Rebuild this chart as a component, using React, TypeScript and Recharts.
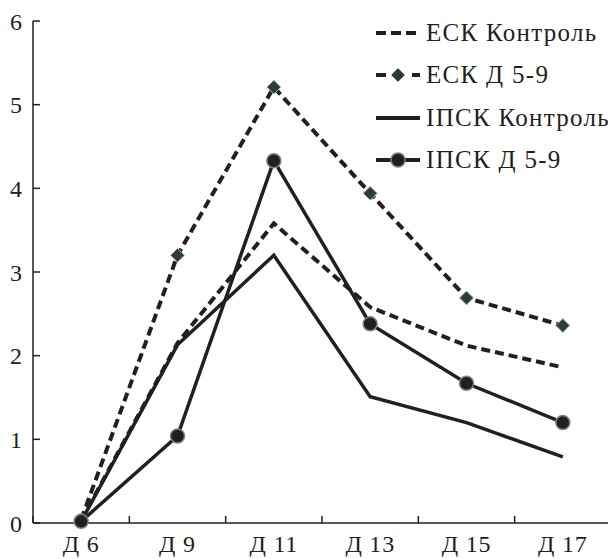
import React from 'react';
import { LineChart, Line, XAxis, YAxis, Legend } from 'recharts';

const categories = ['Д 6', 'Д 9', 'Д 11', 'Д 13', 'Д 15', 'Д 17'];
const eskControl = [0.03, 2.15, 3.58, 2.58, 2.12, 1.86];
const eskD59 = [0.04, 3.2, 5.21, 3.94, 2.69, 2.36];
const ipskControl = [0.02, 2.13, 3.2, 1.51, 1.2, 0.79];
const ipskD59 = [0.02, 1.04, 4.33, 2.38, 1.67, 1.2];
const yTicks = [0, 1, 2, 3, 4, 5, 6];

const seriesNames = ['ЕСК Контроль', 'ЕСК Д 5-9', 'ІПСК Контроль', 'ІПСК Д 5-9'];

const data = categories.map((name, i) => ({
  name,
  eskControl: eskControl[i],
  eskD59: eskD59[i],
  ipskControl: ipskControl[i],
  ipskD59: ipskD59[i],
}));

const INK = '#231f20';
const FONT = 'Liberation Serif';
const X_TICK_MARGIN = 12;

const DiamondDot = (props: any) => {
  const { cx, cy, index } = props;
  if (cx == null || cy == null) return null;
  const s = 7;
  return (
    <polygon
      key={`d-${index}`}
      points={`${cx},${cy - s} ${cx + s},${cy} ${cx},${cy + s} ${cx - s},${cy}`}
      fill="#2b3d3b"
      stroke="#b9bdbc"
      strokeWidth={1}
    />
  );
};

const XTick = (props: any) => {
  const { x, y, payload, index, visibleTicksCount } = props;
  const half = payload && typeof payload.offset === 'number' ? payload.offset : 0;
  const axisY = y - X_TICK_MARGIN;
  const isLast = index === visibleTicksCount - 1;
  return (
    <g>
      <line x1={x - half} y1={axisY} x2={x - half} y2={axisY - 7} stroke={INK} strokeWidth={1.5} />
      {isLast && <line x1={x + half} y1={axisY} x2={x + half} y2={axisY - 7} stroke={INK} strokeWidth={1.5} />}
      <text x={x} y={y} dy="0.71em" textAnchor="middle" fill={INK} fontSize={24} fontFamily={FONT} letterSpacing={0.8}>
        {payload.value}
      </text>
    </g>
  );
};

const YTick = (props: any) => {
  const { x, y, payload } = props;
  return (
    <g>
      <line x1={x + 11} y1={y} x2={x + 18} y2={y} stroke={INK} strokeWidth={1.5} />
      <text x={x} y={y} dy="0.355em" textAnchor="end" fill={INK} fontSize={24} fontFamily={FONT}>
        {payload.value}
      </text>
    </g>
  );
};

const LegendIcon = ({ kind }: { kind: number }) => {
  const w = 46;
  const h = 20;
  const m = h / 2;
  if (kind === 0) {
    return (
      <svg width={w} height={h}>
        <line x1={1} y1={m} x2={w - 1} y2={m} stroke={INK} strokeWidth={4} strokeDasharray="10 5" />
      </svg>
    );
  }
  if (kind === 1) {
    return (
      <svg width={w} height={h}>
        <line x1={1} y1={m} x2={w - 1} y2={m} stroke={INK} strokeWidth={4} strokeDasharray="10 26 10" />
        <polygon points={`${w / 2},${m - 7} ${w / 2 + 7},${m} ${w / 2},${m + 7} ${w / 2 - 7},${m}`} fill="#2b3d3b" stroke="#b9bdbc" strokeWidth={1} />
      </svg>
    );
  }
  if (kind === 2) {
    return (
      <svg width={w} height={h}>
        <line x1={1} y1={m} x2={w - 1} y2={m} stroke={INK} strokeWidth={4} />
      </svg>
    );
  }
  return (
    <svg width={w} height={h}>
      <line x1={1} y1={m} x2={w - 1} y2={m} stroke={INK} strokeWidth={4} />
      <circle cx={w / 2} cy={m} r={7} fill={INK} stroke="#7d8080" strokeWidth={1.5} />
    </svg>
  );
};

const renderLegend = () => (
  <div style={{ fontFamily: '"Liberation Serif", serif', fontSize: 25, color: INK, letterSpacing: 1.3 }}>
    {seriesNames.map((n, i) => (
      <div key={n} style={{ display: 'flex', alignItems: 'center', height: 42.3, whiteSpace: 'nowrap' }}>
        <LegendIcon kind={i} />
        <span style={{ marginLeft: 5 }}>{n}</span>
      </div>
    ))}
  </div>
);

export default function App() {
  return (
    <LineChart width={608} height={551} data={data} margin={{ top: 13, right: 5, bottom: 0, left: 0 }}>
      <XAxis
        dataKey="name"
        scale="band"
        height={36}
        interval={0}
        tickLine={false}
        axisLine={{ stroke: INK, strokeWidth: 1.5 }}
        tickSize={0}
        tickMargin={X_TICK_MARGIN}
        tick={<XTick />}
      />
      <YAxis
        type="number"
        domain={[0, 6]}
        ticks={yTicks}
        width={25}
        tickSize={0}
        tickMargin={11}
        tickLine={false}
        axisLine={{ stroke: INK, strokeWidth: 1.5 }}
        tick={<YTick />}
      />
      <Legend
        content={renderLegend}
        layout="vertical"
        verticalAlign="middle"
        align="center"
        wrapperStyle={{ left: 367, top: 4, width: 245 }}
      />
      <Line
        dataKey="eskControl"
        name={seriesNames[0]}
        stroke={INK}
        strokeWidth={4}
        strokeDasharray="9 5"
        dot={false}
        isAnimationActive={false}
      />
      <Line
        dataKey="ipskControl"
        name={seriesNames[2]}
        stroke={INK}
        strokeWidth={3.5}
        dot={false}
        isAnimationActive={false}
      />
      <Line
        dataKey="eskD59"
        name={seriesNames[1]}
        stroke={INK}
        strokeWidth={4}
        strokeDasharray="9 5"
        dot={DiamondDot}
        isAnimationActive={false}
      />
      <Line
        dataKey="ipskD59"
        name={seriesNames[3]}
        stroke={INK}
        strokeWidth={3.5}
        dot={{ r: 7, fill: INK, stroke: '#7d8080', strokeWidth: 1.5 }}
        isAnimationActive={false}
      />
    </LineChart>
  );
}
